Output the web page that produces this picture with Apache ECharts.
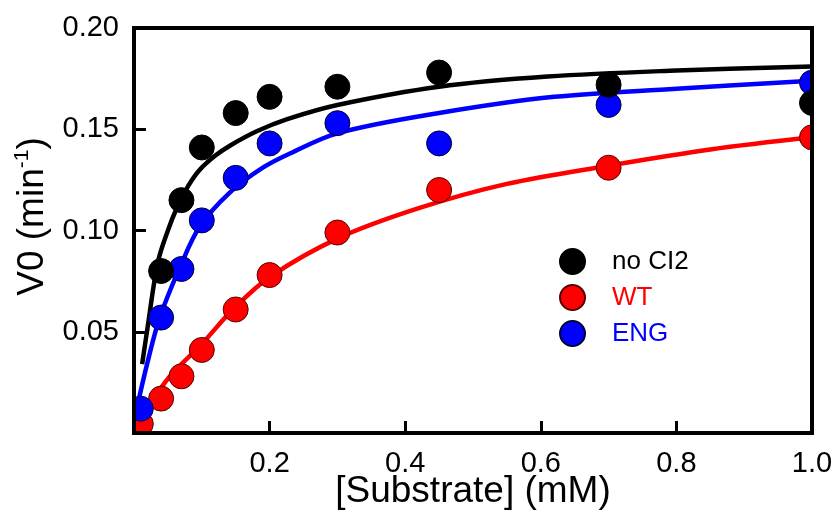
<!DOCTYPE html>
<html>
<head>
<meta charset="utf-8">
<script src="https://cdn.jsdelivr.net/npm/echarts@6/dist/echarts.min.js"></script>
<style>
	html,body{margin:0;padding:0;background:#fff;}
	#chart{width:837px;height:510px;}
</style>
</head>
<body>
<div id="chart"></div>
<script>
	//测量点 x轴 底物浓度 (mM)
	var xNoCI2 = [0.04, 0.07, 0.10, 0.15, 0.20, 0.30, 0.45, 0.70, 1.00];
	var xConc = [0.01, 0.04, 0.07, 0.10, 0.15, 0.20, 0.30, 0.45, 0.70, 1.00];
	//测量点 V0
	var yNoCI2 = [0.080, 0.115, 0.141, 0.158, 0.166, 0.171, 0.178, 0.172, 0.163];
	var yWT = [0.0045, 0.017, 0.028, 0.041, 0.061, 0.078, 0.099, 0.120, 0.131, 0.146];
	var yENG = [0.012, 0.057, 0.081, 0.105, 0.126, 0.143, 0.153, 0.143, 0.162, 0.173];

	//拟合曲线
	var fitNoCI2X = [0.012, 0.02, 0.035, 0.05, 0.063, 0.08, 0.097, 0.12, 0.142, 0.181, 0.226, 0.30, 0.45, 0.61, 0.80, 1.0];
	var fitNoCI2Y = [0.034, 0.052, 0.084, 0.100, 0.111, 0.122, 0.130, 0.137, 0.142, 0.149, 0.155, 0.162, 0.171, 0.176, 0.179, 0.181];
	var fitENGX = [0.004, 0.02, 0.038, 0.068, 0.097, 0.142, 0.19, 0.23, 0.30, 0.45, 0.62, 0.80, 1.0];
	var fitENGY = [0.012, 0.035, 0.057, 0.082, 0.102, 0.119, 0.131, 0.138, 0.148, 0.158, 0.166, 0.170, 0.174];
	var fitWTX = [0.01, 0.028, 0.053, 0.10, 0.146, 0.20, 0.30, 0.42, 0.55, 0.70, 0.85, 1.0];
	var fitWTY = [0.004, 0.016, 0.028, 0.044, 0.061, 0.077, 0.096, 0.111, 0.123, 0.132, 0.140, 0.146];

	//坐标轴刻度
	var xTicks = [0.2, 0.4, 0.6, 0.8, 1.0];
	var yTicks = [0.05, 0.10, 0.15, 0.20];

	function pairs(xs, ys){
		var out = [];
		for(var i=0;i<xs.length;i++){
			out.push([xs[i], ys[i]]);
		}
		return out;
	}

	var font = 'Liberation Sans, Arial, Helvetica, sans-serif';
	//绘图区 (像素)
	var G = {left: 134, top: 28, right: 25, bottom: 77};
	var gw = 837 - G.left - G.right;
	var gh = 510 - G.top - G.bottom;

	function fitLine(xs, ys, color){
		return {
			type: 'line',
			data: pairs(xs, ys),
			smooth: 0.35,
			showSymbol: false,
			symbol: 'none',
			silent: true,
			lineStyle: {width: 4.5, color: color},
			z: 2
		};
	}

	function points(name, xs, ys, color, border){
		return {
			name: name,
			type: 'scatter',
			data: pairs(xs, ys),
			symbol: 'circle',
			symbolSize: 25,
			clip: false,
			itemStyle: {color: color, borderColor: border, borderWidth: 1, opacity: 1},
			z: 3
		};
	}

	var chartOption = {
		backgroundColor: '#fff',
		animation: false,
		grid: {  //布局
			left: G.left,
			right: G.right,
			top: G.top,
			bottom: G.bottom,
			outerBoundsMode: 'none',
			containLabel: false,
			show: false
		},
		//框外遮挡 + 外框
		graphic: [
			{type: 'rect', z: 100, silent: true, shape: {x: G.left + gw + 2, y: 0, width: 30, height: G.top + gh + 8}, style: {fill: '#fff'}},
			{type: 'rect', z: 100, silent: true, shape: {x: 121, y: G.top + gh + 2, width: 716, height: 8}, style: {fill: '#fff'}},
			{type: 'rect', z: 100, silent: true, shape: {x: 121, y: G.top - 5, width: G.left - 121 - 2, height: gh + 12}, style: {fill: '#fff'}},
			{type: 'rect', z: 101, silent: true, shape: {x: G.left, y: G.top, width: gw, height: gh}, style: {fill: 'none', stroke: '#000', lineWidth: 4}}
		],
		legend: {
			orient: 'vertical',
			left: 554,
			top: 243,
			itemWidth: 25,
			itemHeight: 25,
			itemGap: 9,
			icon: 'circle',
			textStyle: {fontFamily: font, fontSize: 26, padding: [0, 0, 0, 22]},
			data: [
				{name: 'no CI2', textStyle: {color: '#000'}},
				{name: 'WT', textStyle: {color: '#ff0000'}},
				{name: 'ENG', textStyle: {color: '#0000ff'}}
			]
		},
		xAxis: {
			type: 'value',
			min: 0,
			max: 1.0,
			interval: 0.2,
			name: '[Substrate] (mM)',
			nameLocation: 'middle',
			nameGap: 40,
			nameMoveOverlap: false,
			nameTextStyle: {fontFamily: font, fontSize: 37, color: '#000'},
			splitLine: {show: false},
			axisLine: {show: false},
			axisTick: {show: true, inside: true, length: 12, lineStyle: {color: '#000', width: 3}},
			axisLabel: {
				fontFamily: font,
				fontSize: 29,
				color: '#000',
				margin: 16,
				formatter: function(v){
					return xTicks.indexOf(Math.round(v*10)/10) >= 0 ? v.toFixed(1) : '';
				}
			}
		},
		yAxis: {
			type: 'value',
			min: 0,
			max: 0.20,
			interval: 0.05,
			name: '{a|V0 (min}{s|-1}{a|)}',
			nameLocation: 'middle',
			nameGap: 80,
			nameMoveOverlap: false,
			nameTextStyle: {
				color: '#000',
				padding: [0, 0, 0, 28],
				rich: {
					a: {fontFamily: font, fontSize: 37, color: '#000', lineHeight: 42},
					s: {fontFamily: font, fontSize: 21, color: '#000', verticalAlign: 'top', lineHeight: 23}
				}
			},
			splitLine: {show: false},
			axisLine: {show: false},
			axisTick: {show: true, inside: true, length: 12, lineStyle: {color: '#000', width: 3}},
			axisLabel: {
				fontFamily: font,
				fontSize: 29,
				color: '#000',
				margin: 15,
				formatter: function(v){
					return yTicks.indexOf(Math.round(v*100)/100) >= 0 ? v.toFixed(2) : '';
				}
			}
		},
		series: [
			fitLine(fitWTX, fitWTY, '#ff0000'),
			fitLine(fitENGX, fitENGY, '#0000ff'),
			fitLine(fitNoCI2X, fitNoCI2Y, '#000000'),
			points('WT', xConc, yWT, '#ff0000', '#550000'),
			points('ENG', xConc, yENG, '#0000ff', '#000033'),
			points('no CI2', xNoCI2, yNoCI2, '#000000', '#000000')
		]
	};

	var chart = echarts.init(document.getElementById('chart'), null, {renderer: 'canvas'});
	chart.setOption(chartOption);
</script>
</body>
</html>
